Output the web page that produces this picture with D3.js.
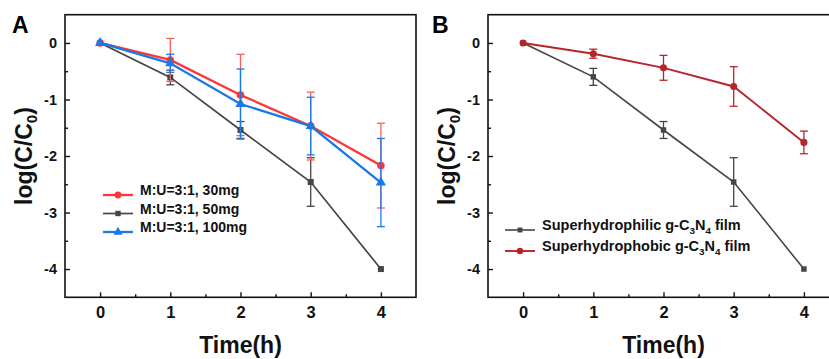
<!DOCTYPE html>
<html>
<head>
<meta charset="utf-8">
<script src="https://cdn.jsdelivr.net/npm/d3@7/dist/d3.min.js"></script>
<style>
  html, body { margin: 0; padding: 0; background: #fff; }
  svg { display: block; font-family: "Liberation Sans", Arial, sans-serif; font-weight: bold; }
</style>
</head>
<body>
<div id="chart"></div>
<script>
// values
const times = [0, 1, 2, 3, 4];
const yTicks = [-4, -3, -2, -1, 0];

const mu30 = [0, -0.30, -0.92, -1.47, -2.17];
const mu30Err = [0, 0.38, 0.72, 0.60, 0.75];
const mu50 = [0, -0.61, -1.54, -2.46, -4.0];
const mu50Err = [0, 0.13, 0.15, 0.43, 0];
const mu100 = [0, -0.36, -1.08, -1.47, -2.47];
const mu100Err = [0, 0.16, 0.62, 0.51, 0.78];

const philic = [0, -0.60, -1.54, -2.46, -4.0];
const philicErr = [0, 0.15, 0.15, 0.43, 0];
const phobic = [0, -0.19, -0.44, -0.77, -1.76];
const phobicErr = [0, 0.08, 0.22, 0.35, 0.20];

const W = 829, H = 359;

const svg = d3.select('#chart')
    .append('svg')
    .attr('width', W)
    .attr('height', H);

svg.append('rect').attr('width', W).attr('height', H).attr('fill', '#fff');

function drawPanel(p) {
    const x = d3.scaleLinear().domain([-0.5, 4.5]).range([p.left, p.right]);
    const y = d3.scaleLinear().domain([-4.5, 0.5]).range([p.bottom, p.top]);
    const g = svg.append('g');

    // minor ticks
    g.append('g')
        .attr('transform', `translate(0,${p.bottom})`)
        .call(d3.axisBottom(x).tickValues([0.5, 1.5, 2.5, 3.5]).tickSizeInner(-3).tickSizeOuter(0).tickFormat(''))
        .call(a => a.select('.domain').remove());
    g.append('g')
        .attr('transform', `translate(${p.left},0)`)
        .call(d3.axisLeft(y).tickValues([-3.5, -2.5, -1.5, -0.5]).tickSizeInner(-3).tickSizeOuter(0).tickFormat(''))
        .call(a => a.select('.domain').remove());

    // major ticks
    const xa = g.append('g')
        .attr('transform', `translate(0,${p.bottom})`)
        .call(d3.axisBottom(x).tickValues(times).tickSizeInner(-5).tickSizeOuter(0).tickPadding(9).tickFormat(d => String(d)));
    xa.select('.domain').remove();
    xa.selectAll('text').attr('font-size', 16.5).attr('font-family', null).attr('fill', '#111');

    const ya = g.append('g')
        .attr('transform', `translate(${p.left},0)`)
        .call(d3.axisLeft(y).tickValues(yTicks).tickSizeInner(-5).tickSizeOuter(0).tickPadding(8).tickFormat(d => String(d)));
    ya.select('.domain').remove();
    ya.selectAll('text').attr('font-size', 14.5).attr('font-family', null).attr('fill', '#111');
    g.selectAll('.tick line').attr('stroke', '#111').attr('stroke-width', 1.4);

    g.append('rect')
        .attr('x', p.left).attr('y', p.top)
        .attr('width', p.right - p.left).attr('height', p.bottom - p.top)
        .attr('fill', 'none').attr('stroke', '#111').attr('stroke-width', 1.6);

    // titles
    g.append('text')
        .attr('x', x(2))
        .attr('y', 353)
        .attr('text-anchor', 'middle')
        .attr('font-size', 23)
        .attr('fill', '#111')
        .text('Time(h)');

    const yt = g.append('text')
        .attr('transform', `translate(${p.left - 33},${y(-2)}) rotate(-90)`)
        .attr('text-anchor', 'middle')
        .attr('font-size', 23)
        .attr('fill', '#111');
    yt.append('tspan').text('log(C/C');
    yt.append('tspan').attr('font-size', 15).attr('dy', 5).text('0');
    yt.append('tspan').attr('dy', -5).text(')');

    g.append('text')
        .attr('x', p.labelX).attr('y', 33)
        .attr('font-size', 23)
        .attr('fill', '#000')
        .text(p.label);

    const line = d3.line().x(d => x(d.t)).y(d => y(d.v));

    p.series.forEach(s => {
        const pts = times.map((t, i) => ({ t: t, v: s.values[i], e: s.errors[i] }));
        const sg = g.append('g');

        sg.append('path')
            .datum(pts)
            .attr('d', line)
            .attr('fill', 'none')
            .attr('stroke', s.color)
            .attr('stroke-width', s.width);

        const bars = sg.selectAll('g.err')
            .data(pts.filter(d => d.e > 0))
            .enter()
            .append('g')
            .attr('class', 'err')
            .attr('stroke', s.errColor || s.color)
            .attr('stroke-width', 1.3);
        bars.append('line')
            .attr('x1', d => x(d.t)).attr('x2', d => x(d.t))
            .attr('y1', d => y(d.v + d.e)).attr('y2', d => y(d.v - d.e));
        bars.append('line')
            .attr('x1', d => x(d.t) - 4).attr('x2', d => x(d.t) + 4)
            .attr('y1', d => y(d.v + d.e)).attr('y2', d => y(d.v + d.e));
        bars.append('line')
            .attr('x1', d => x(d.t) - 4).attr('x2', d => x(d.t) + 4)
            .attr('y1', d => y(d.v - d.e)).attr('y2', d => y(d.v - d.e));

        sg.selectAll('path.mark')
            .data(pts)
            .enter()
            .append('path')
            .attr('class', 'mark')
            .attr('transform', d => `translate(${x(d.t)},${y(d.v)})`)
            .attr('d', d3.symbol().type(s.symbol).size(s.size))
            .attr('fill', s.color);
    });

    // legend (own order, independent of draw order)
    p.series.forEach(s => {
        const ly = p.legY + s.leg * p.legGap;
        const lg = g.append('g');
        lg.append('line')
            .attr('x1', p.legX).attr('x2', p.legX + 30)
            .attr('y1', ly).attr('y2', ly)
            .attr('stroke', s.color).attr('stroke-width', s.width);
        lg.append('path')
            .attr('transform', `translate(${p.legX + 15},${ly})`)
            .attr('d', d3.symbol().type(s.symbol).size(s.size * 0.8))
            .attr('fill', s.color);
        const t = lg.append('text')
            .attr('x', p.legX + 37).attr('y', ly)
            .attr('dy', '0.35em')
            .attr('font-size', p.legFont)
            .attr('fill', '#111');
        let shift = 0;
        s.name.forEach(part => {
            if (part.sub) {
                t.append('tspan').attr('font-size', p.legFont * 0.68).attr('dy', 4 - shift).text(part.sub);
                shift = 4;
            } else {
                t.append('tspan').attr('dy', -shift).text(part.text);
                shift = 0;
            }
        });
    });
}

drawPanel({
    label: 'A', labelX: 12,
    left: 65, right: 416, top: 14.7, bottom: 297.3,
    legX: 103, legY: 195, legGap: 18.5, legFont: 14,
    series: [
        { leg: 1, name: [{ text: 'M:U=3:1, 50mg' }], values: mu50, errors: mu50Err, color: '#454545', width: 1.7, symbol: d3.symbolSquare, size: 36 },
        { leg: 0, name: [{ text: 'M:U=3:1, 30mg' }], values: mu30, errors: mu30Err, color: '#ff3535', errColor: '#ff5a5a', width: 2.3, symbol: d3.symbolCircle, size: 45 },
        { leg: 2, name: [{ text: 'M:U=3:1, 100mg' }], values: mu100, errors: mu100Err, color: '#1a78e8', width: 2.3, symbol: d3.symbolTriangle, size: 45 }
    ]
});

drawPanel({
    label: 'B', labelX: 432,
    left: 488, right: 839, top: 14.7, bottom: 297.3,
    legX: 505, legY: 230, legGap: 21, legFont: 14.5,
    series: [
        { leg: 0, name: [{ text: 'Superhydrophilic g-C' }, { sub: '3' }, { text: 'N' }, { sub: '4' }, { text: ' film' }], values: philic, errors: philicErr, color: '#454545', width: 1.6, symbol: d3.symbolSquare, size: 30 },
        { leg: 1, name: [{ text: 'Superhydrophobic g-C' }, { sub: '3' }, { text: 'N' }, { sub: '4' }, { text: ' film' }], values: phobic, errors: phobicErr, color: '#b5262b', width: 1.9, symbol: d3.symbolCircle, size: 40 }
    ]
});
</script>
</body>
</html>
